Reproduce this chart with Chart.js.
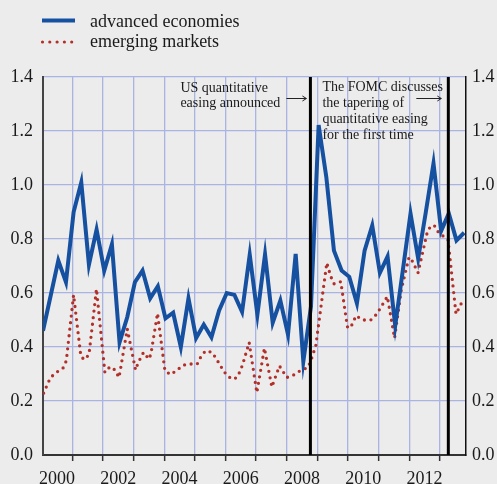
<!DOCTYPE html>
<html>
<head>
<meta charset="utf-8">
<script src="https://cdn.jsdelivr.net/npm/chart.js@4.4.1/dist/chart.umd.min.js"></script>
<style>
  html, body { margin: 0; padding: 0; background: #ececec; }
  #wrap { width: 497px; height: 484px; }
</style>
</head>
<body>
<div id="wrap"><canvas id="chart" width="497" height="484"></canvas></div>
<script>
// --- Data ---
const firstYear = 2000;
const lastYear = 2013;

// advanced economies, quarterly from 2000 Q1
const advancedValues = [
  0.46, 0.59, 0.72, 0.64, 0.90, 1.01, 0.705, 0.835, 0.683, 0.78, 0.417, 0.51,
  0.64, 0.683, 0.58, 0.625, 0.506, 0.527, 0.40, 0.58, 0.433, 0.483, 0.436, 0.535,
  0.60, 0.593, 0.53, 0.742, 0.52, 0.743, 0.49, 0.572, 0.446, 0.745, 0.347, 0.55,
  1.222, 1.03, 0.757, 0.683, 0.66, 0.562, 0.757, 0.85, 0.675, 0.735, 0.479, 0.685,
  0.894, 0.727, 0.90, 1.08, 0.83, 0.895, 0.795, 0.823
];

// emerging markets, turning points (decimal years)
const emergingDates = [
  2000.062, 2000.281, 2000.476, 2000.695, 2000.803, 2001.041, 2001.276, 2001.380,
  2001.543, 2001.788, 2002.062, 2002.228, 2002.392, 2002.522, 2002.564, 2002.793,
  2003.064, 2003.152, 2003.325, 2003.501, 2003.566, 2003.781, 2004.023, 2004.206,
  2004.414, 2004.620, 2004.858, 2005.077, 2005.197, 2005.348, 2005.566, 2005.719,
  2005.850, 2006.000, 2006.196, 2006.359, 2006.489, 2006.578, 2006.773, 2007.024,
  2007.272, 2007.514, 2007.762, 2008.003, 2008.219, 2008.437, 2008.688, 2008.786,
  2008.949, 2009.308, 2009.439, 2009.547, 2009.765, 2009.980, 2010.078, 2010.264,
  2010.483, 2010.744, 2010.940, 2011.285, 2011.520, 2011.742, 2011.993, 2012.091,
  2012.287, 2012.590, 2012.711, 2012.832, 2012.962, 2013.266, 2013.527, 2013.771
];
const emergingValues = [
  0.229, 0.286, 0.306, 0.322, 0.349, 0.593, 0.368, 0.353,
  0.371, 0.615, 0.306, 0.327, 0.315, 0.287, 0.312, 0.467,
  0.315, 0.343, 0.380, 0.355, 0.374, 0.525, 0.312, 0.298,
  0.314, 0.333, 0.337, 0.337, 0.364, 0.386, 0.380, 0.353,
  0.328, 0.302, 0.281, 0.286, 0.312, 0.342, 0.417, 0.231,
  0.396, 0.252, 0.330, 0.287, 0.296, 0.312, 0.324, 0.349,
  0.405, 0.712, 0.661, 0.634, 0.642, 0.475, 0.470, 0.516,
  0.500, 0.500, 0.522, 0.587, 0.433, 0.613, 0.733, 0.720,
  0.675, 0.826, 0.850, 0.848, 0.823, 0.797, 0.522, 0.578
];

// event markers
const eventDates = [2008.773, 2013.276];
const eventNotes = [
  ['US quantitative', 'easing announced'],
  ['The FOMC discusses', 'the tapering of', 'quantitative easing', 'for the first time']
];

const seriesNames = ['advanced economies', 'emerging markets'];
const yTicks = [0, 0.2, 0.4, 0.6, 0.8, 1.0, 1.2, 1.4];

// --- Styles ---
const BLUE = '#1650a0';
const RED = '#b3302a';
const GRID = '#a9b4e2';
const SERIF = "'Liberation Serif', 'Times New Roman', serif";
const TEXT = '#1a1a1a';

// quarterly dates: middle of first month of each quarter
const advancedData = advancedValues.map((v, i) => ({
  x: firstYear + Math.floor(i / 4) + ((i % 4) * 3 + 0.5) / 12,
  y: v
}));
const emergingData = emergingDates.map((d, i) => ({ x: d, y: emergingValues[i] }));

const extras = {
  id: 'extras',
  afterDatasetsDraw(chart) {
    const { ctx, chartArea, scales } = chart;
    ctx.save();
    // event lines
    ctx.strokeStyle = '#000';
    ctx.lineWidth = 3;
    eventDates.forEach(d => {
      const x = scales.x.getPixelForValue(d);
      ctx.beginPath();
      ctx.moveTo(x, chartArea.top);
      ctx.lineTo(x, chartArea.bottom);
      ctx.stroke();
    });

    // notes
    ctx.fillStyle = TEXT;
    ctx.font = '14px ' + SERIF;
    ctx.textBaseline = 'alphabetic';
    ctx.textAlign = 'left';
    const x1 = scales.x.getPixelForValue(eventDates[0]);
    const x2 = scales.x.getPixelForValue(eventDates[1]);
    eventNotes[0].forEach((line, i) => ctx.fillText(line, x1 - 130, 92 + i * 15));
    eventNotes[1].forEach((line, i) => ctx.fillText(line, x1 + 12, 90.5 + i * 16));

    drawArrow(ctx, x1 - 24, x1 - 4, 98.5);
    drawArrow(ctx, x2 - 32, x2 - 7, 98.5);

    // legend
    ctx.lineCap = 'butt';
    ctx.strokeStyle = BLUE;
    ctx.lineWidth = 4;
    ctx.beginPath();
    ctx.moveTo(42, 20.5);
    ctx.lineTo(75, 20.5);
    ctx.stroke();

    ctx.strokeStyle = RED;
    ctx.lineWidth = 3.2;
    ctx.lineCap = 'round';
    ctx.setLineDash([0, 7.3]);
    ctx.beginPath();
    ctx.moveTo(42.5, 42);
    ctx.lineTo(76, 42);
    ctx.stroke();
    ctx.setLineDash([]);

    ctx.fillStyle = TEXT;
    ctx.font = '18px ' + SERIF;
    ctx.fillText(seriesNames[0], 90, 27);
    ctx.fillText(seriesNames[1], 90, 47);
    ctx.restore();
  }
};

function drawArrow(ctx, xa, xb, y) {
  ctx.save();
  ctx.strokeStyle = '#222';
  ctx.lineWidth = 1;
  ctx.beginPath();
  ctx.moveTo(xa, y);
  ctx.lineTo(xb, y);
  ctx.moveTo(xb - 4, y - 2.5);
  ctx.lineTo(xb, y);
  ctx.lineTo(xb - 4, y + 2.5);
  ctx.stroke();
  ctx.restore();
}

const isYear = v => Math.abs(v - Math.round(v)) < 1e-6;

new Chart(document.getElementById('chart'), {
  type: 'line',
  data: {
    datasets: [
      {
        label: seriesNames[1],
        data: emergingData,
        borderColor: RED,
        borderWidth: 3.3,
        borderDash: [0, 6.6],
        borderCapStyle: 'round',
        pointRadius: 0,
        tension: 0,
        fill: false,
        order: 2
      },
      {
        label: seriesNames[0],
        data: advancedData,
        borderColor: BLUE,
        borderWidth: 4,
        pointRadius: 0,
        tension: 0,
        fill: false,
        order: 1
      }
    ]
  },
  options: {
    responsive: false,
    animation: false,
    layout: { padding: { top: 77, left: 0, right: 0, bottom: 0 } },
    plugins: {
      legend: { display: false },
      tooltip: { enabled: false }
    },
    scales: {
      x: {
        type: 'linear',
        min: 2000.042,
        max: 2013.853,
        afterBuildTicks: scale => {
          const t = [];
          for (let y = firstYear; y <= lastYear; y++) {
            if (y > firstYear) t.push({ value: y });
            if (y % 2 === 0) t.push({ value: y + 0.5 });
          }
          scale.ticks = t;
        },
        afterFit: s => { s.height = 29; },
        grid: {
          color: c => (c.tick && isYear(c.tick.value)) ? GRID : 'rgba(0,0,0,0)',
          tickColor: c => (c.tick && isYear(c.tick.value)) ? '#333' : 'rgba(0,0,0,0)',
          lineWidth: 1.3,
          drawTicks: true,
          tickLength: 6,
          tickWidth: 1.5
        },
        border: { display: true, color: '#333', width: 2 },
        ticks: {
          autoSkip: false,
          maxRotation: 0,
          padding: 7,
          color: TEXT,
          font: { family: SERIF, size: 18 },
          callback: v => isYear(v) ? '' : String(Math.floor(v))
        }
      },
      y: {
        position: 'left',
        min: 0,
        max: 1.4,
        afterBuildTicks: scale => { scale.ticks = yTicks.map(v => ({ value: v })); },
        afterFit: s => { s.width = 43; },
        grid: { color: GRID, lineWidth: 1.3, drawTicks: false },
        border: { display: true, color: '#444', width: 2 },
        ticks: {
          padding: 10,
          color: TEXT,
          font: { family: SERIF, size: 18 },
          callback: v => v.toFixed(1)
        }
      },
      y2: {
        position: 'right',
        min: 0,
        max: 1.4,
        afterBuildTicks: scale => { scale.ticks = yTicks.map(v => ({ value: v })); },
        afterFit: s => { s.width = 31; },
        grid: { display: false, drawTicks: false },
        border: { display: true, color: '#111', width: 1.5 },
        ticks: {
          padding: 6,
          color: TEXT,
          font: { family: SERIF, size: 18 },
          callback: v => v.toFixed(1)
        }
      }
    }
  },
  plugins: [extras]
});
</script>
</body>
</html>
